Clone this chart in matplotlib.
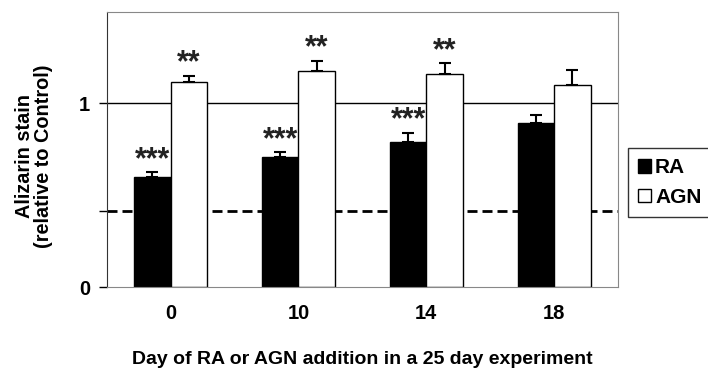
import numpy as np
import matplotlib.pyplot as plt
from matplotlib.patches import Patch

plt.rcParams['font.family'] = ['Liberation Sans', 'DejaVu Sans']
plt.rcParams['font.weight'] = 'bold'

days = ["0", "10", "14", "18"]
ra = [0.596, 0.708, 0.790, 0.893]
ra_err = [0.027, 0.026, 0.049, 0.042]
agn = [1.112, 1.174, 1.158, 1.098]
agn_err = [0.036, 0.056, 0.060, 0.080]
ra_stars = ["***", "***", "***", ""]
agn_stars = ["**", "**", "**", ""]
ra_level = 0.415  # dashed line

x = np.arange(len(days))
w = 0.285

fig = plt.figure(figsize=(7.08, 3.76), dpi=100)
ax = fig.add_axes([0.1507, 0.2367, 0.873 - 0.1507, 0.968 - 0.2367])

ax.axhline(1, color="black", lw=1.0, zorder=1)
ax.axhline(ra_level, color="black", lw=2.0, ls=(0, (3.6, 1.8)), zorder=1)

ax.bar(x - w/2, ra, w, color="black", edgecolor="black", lw=1, zorder=2,
       yerr=[np.zeros(4), ra_err], error_kw=dict(ecolor="black", elinewidth=1.5, capsize=4, capthick=1.5))
ax.bar(x + w/2, agn, w, color="white", edgecolor="black", lw=1, zorder=2,
       yerr=[np.zeros(4), agn_err], error_kw=dict(ecolor="black", elinewidth=1.5, capsize=4, capthick=1.5))

# significance stars
for i in range(len(days)):
    if ra_stars[i]:
        ax.annotate(ra_stars[i], (x[i] - w/2, ra[i] + ra_err[i]), xytext=(0, -2),
                    textcoords="offset points", ha="center", va="bottom", fontsize=22,
                    color="#222")
    if agn_stars[i]:
        ax.annotate(agn_stars[i], (x[i] + w/2, agn[i] + agn_err[i]), xytext=(0, -2),
                    textcoords="offset points", ha="center", va="bottom", fontsize=22,
                    color="#222")

ax.set_xlim(-0.5, 3.5)
ax.set_ylim(0, 1.495)
ax.set_xticks(x)
ax.set_xticklabels(days, fontsize=14.5)
ax.tick_params(axis="x", length=0, pad=12)
ax.set_yticks([0, ra_level, 1])
ax.set_yticklabels(["0", "", "1"], fontsize=14.5)
ax.tick_params(axis="y", length=6, width=1, pad=6, direction="out")

for s in ["top", "right", "bottom"]:
    ax.spines[s].set_color("#888888")
ax.spines["left"].set_color("#333333")

fig.text(0.5 * (0.1507 + 0.873), 0.043, "Day of RA or AGN addition in a 25 day experiment",
         ha="center", va="center", fontsize=14)
fig.text(34/708, 0.585, "Alizarin stain\n(relative to Control)", rotation=90,
         ha="center", va="center", fontsize=14.3, linespacing=1.0)

handles = [Patch(facecolor="black", edgecolor="black"), Patch(facecolor="white", edgecolor="black")]
fig.legend(handles, ["RA", "AGN"], loc="upper left", bbox_to_anchor=(628/708, 1 - 148/376),
           borderaxespad=0, fontsize=15, frameon=True, fancybox=False, edgecolor="black",
           handlelength=0.6, handleheight=0.6, handletextpad=0.2, borderpad=0.5, labelspacing=0.5)

plt.savefig("out.png", dpi=100)
